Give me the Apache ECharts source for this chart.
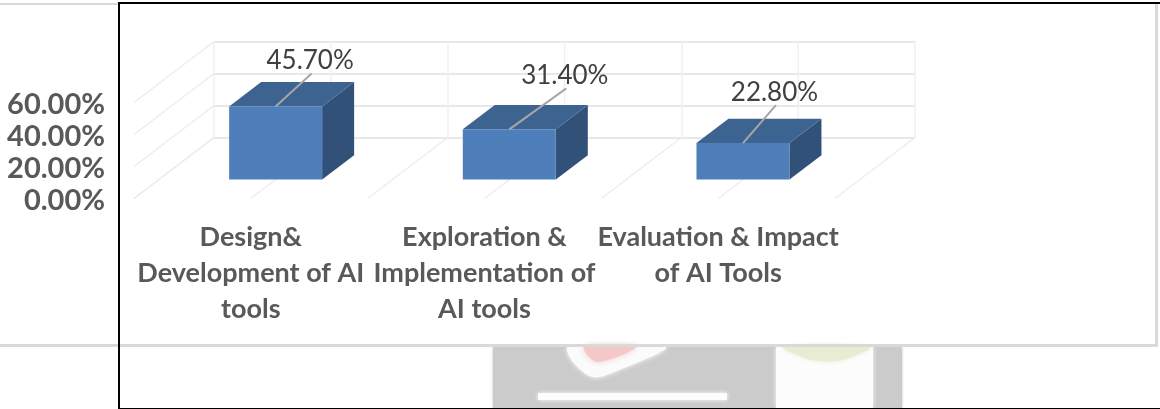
<!DOCTYPE html>
<html>
<head>
<meta charset="utf-8">
<title>AI tools chart</title>
<style>
  html, body { margin: 0; padding: 0; background: #fff; }
  #chart { width: 1160px; height: 409px; }
</style>
<script src="https://cdn.jsdelivr.net/npm/echarts@6/dist/echarts.min.js"></script>
</head>
<body>
<div id="chart"></div>
<script>
// data
var categories = ['Design&\nDevelopment of AI\ntools', 'Exploration &\nImplementation of\nAI tools', 'Evaluation & Impact\nof AI Tools'];
var shares = [45.7, 31.4, 22.8];
var yTicks = [0, 20, 40, 60];

// fake 3d: how far the front edge of the floor sits from the back wall, in px
var depthX = -80, depthY = 61;
var barFront = 0.69, barBack = 0.29;   // bar position along the depth
var barRatio = 0.398;                  // bar width / band width
var leaderOffset = [[36, -33], [57, -41], [33, -38]];

var font = 'Lato, "Noto Sans", sans-serif';
var wallColor = '#e8e8e8';
var floorColor = '#ececec';

function shift(p, k) {
  return [p[0] + depthX * k, p[1] + depthY * k];
}

function lineEl(a, b, color, width) {
  return {
    type: 'line',
    shape: { x1: a[0], y1: a[1], x2: b[0], y2: b[1] },
    style: { stroke: color, lineWidth: width }
  };
}

// middle verticals on the wall and the lines running over the floor
function renderFloor(params, api) {
  var i = api.value(0);
  var band = api.size([1, 0])[0];
  var bottom = api.coord([i, 0]);
  var top = api.coord([i, 60]);
  var xs = [bottom[0] - band / 2, bottom[0]];
  if (i === categories.length - 1) xs.push(bottom[0] + band / 2);
  var els = [lineEl([bottom[0], bottom[1]], [top[0], top[1]], '#f1f1f1', 1.5)];
  xs.forEach(function (x) {
    var p = [x, bottom[1]];
    els.push(lineEl(p, shift(p, 1), floorColor, 1.2));
  });
  return { type: 'group', children: els };
}

// side wall lines, one for each y tick
function renderSide(params, api) {
  var p = api.coord([0, api.value(1)]);
  p[0] -= api.size([1, 0])[0] / 2;
  return lineEl(p, shift(p, 1), floorColor, 1.2);
}

function renderBar(params, api) {
  var i = api.value(0);
  var base = api.coord([i, 0]);
  var tip = api.coord([i, api.value(1)]);
  var w = api.size([1, 0])[0] * barRatio;
  var l = base[0] - w / 2, r = base[0] + w / 2;

  var fbl = shift([l, base[1]], barFront), fbr = shift([r, base[1]], barFront);
  var ftl = shift([l, tip[1]], barFront), ftr = shift([r, tip[1]], barFront);
  var bbr = shift([r, base[1]], barBack);
  var btl = shift([l, tip[1]], barBack), btr = shift([r, tip[1]], barBack);

  var anchor = [(ftl[0] + ftr[0]) / 2, ftl[1]];
  var end = [anchor[0] + leaderOffset[i][0], anchor[1] + leaderOffset[i][1]];

  return {
    type: 'group',
    children: [
      { type: 'polygon', shape: { points: [ftr, btr, bbr, fbr] }, style: { fill: '#325179' } },
      { type: 'polygon', shape: { points: [ftl, btl, btr, ftr] }, style: { fill: '#3d6390' } },
      { type: 'polygon', shape: { points: [ftl, ftr, fbr, fbl] }, style: { fill: '#4e7fbb' } },
      lineEl(anchor, end, '#a6a6a6', 2),
      {
        type: 'text',
        x: end[0] - 1.5,
        y: end[1] - 13,
        style: {
          text: api.value(1).toFixed(2) + '%',
          font: '26px ' + font,
          fill: '#404040',
          align: 'center',
          verticalAlign: 'middle'
        }
      }
    ]
  };
}

// soft edged shape for the faded logo below the chart
function blurred(fill, blur) {
  return { fill: fill, shadowColor: fill, shadowBlur: blur };
}

var option = {
  animation: false,
  backgroundColor: '#ffffff',
  // the page around the chart: frame lines and the faded logo under it
  graphic: [
    { type: 'rect', silent: true, shape: { x: 493, y: 347, width: 409, height: 61 }, style: blurred('#cbcbcb', 3) },
    { type: 'rect', silent: true, shape: { x: 776, y: 347, width: 97, height: 61 }, style: blurred('#fcfcfc', 4) },
    { type: 'rect', silent: true, shape: { x: 538, y: 393, width: 189, height: 7 }, style: blurred('#fdfdfd', 4) },
    { type: 'polygon', silent: true, shape: { points: [[568, 347], [573, 362], [592, 377], [612, 373], [666, 347]], smooth: 0.3 }, style: blurred('#fbfbfb', 5) },
    { type: 'polygon', silent: true, shape: { points: [[584, 347], [597, 362], [636, 347]], smooth: 0.3 }, style: blurred('#f4c8c8', 6) },
    { type: 'polygon', silent: true, shape: { points: [[783, 347], [812, 360], [842, 360], [870, 347]], smooth: 0.3 }, style: blurred('#e9ebd3', 4) },
    { type: 'rect', silent: true, shape: { x: 0, y: 344, width: 1158, height: 3 }, style: { fill: '#d9d9d9' } },
    { type: 'rect', silent: true, shape: { x: 1155, y: 4, width: 3, height: 343 }, style: { fill: '#d9d9d9' } },
    { type: 'rect', silent: true, shape: { x: 0, y: 3, width: 118, height: 2 }, style: { fill: '#d9d9d9' } },
    { type: 'rect', silent: true, shape: { x: 118, y: 2, width: 1042, height: 2 }, style: { fill: '#000000' } },
    { type: 'rect', silent: true, shape: { x: 118, y: 2, width: 2, height: 407 }, style: { fill: '#000000' } },
    { type: 'rect', silent: true, shape: { x: 118, y: 408, width: 1042, height: 1 }, style: { fill: '#000000' } }
  ],
  grid: [
    // back wall
    { left: 214, top: 41.5, width: 701, height: 96 },
    // front edge of the floor, only carries the axis labels
    { left: 134, top: 105, width: 701, height: 96 }
  ],
  xAxis: [
    {
      type: 'category',
      gridIndex: 0,
      data: categories,
      axisLine: { show: false },
      axisTick: { show: false },
      axisLabel: { show: false },
      splitLine: { show: true, lineStyle: { color: '#f1f1f1', width: 1.5 } }
    },
    {
      type: 'category',
      gridIndex: 1,
      data: categories,
      axisLine: { show: false },
      axisTick: { show: false },
      axisLabel: {
        interval: 0,
        margin: 18,
        fontFamily: font,
        fontWeight: 'bold',
        fontSize: 27,
        lineHeight: 36,
        color: '#595959'
      }
    }
  ],
  yAxis: [
    {
      type: 'value',
      gridIndex: 0,
      min: 0,
      max: 60,
      interval: 20,
      axisLine: { show: false },
      axisTick: { show: false },
      axisLabel: { show: false },
      splitLine: { lineStyle: { color: wallColor, width: 2 } }
    },
    {
      type: 'value',
      gridIndex: 1,
      min: 0,
      max: 60,
      interval: 20,
      axisLine: { show: false },
      axisTick: { show: false },
      splitLine: { show: false },
      axisLabel: {
        margin: 29,
        fontFamily: font,
        fontWeight: 'bold',
        fontSize: 29,
        color: '#595959',
        formatter: function (v) { return v.toFixed(2) + '%'; }
      }
    }
  ],
  series: [
    {
      type: 'custom',
      name: 'side',
      xAxisIndex: 0,
      yAxisIndex: 0,
      z: 1,
      silent: true,
      renderItem: renderSide,
      encode: { x: 0, y: 1 },
      data: yTicks.map(function (t) { return [0, t]; })
    },
    {
      type: 'custom',
      name: 'floor',
      xAxisIndex: 0,
      yAxisIndex: 0,
      z: 1,
      silent: true,
      renderItem: renderFloor,
      encode: { x: 0, y: 1 },
      data: categories.map(function (c, i) { return [i, 0]; })
    },
    {
      type: 'custom',
      name: 'share',
      xAxisIndex: 0,
      yAxisIndex: 0,
      z: 2,
      renderItem: renderBar,
      encode: { x: 0, y: 1 },
      data: shares.map(function (v, i) { return [i, v]; })
    }
  ]
};

var myChart = echarts.init(document.getElementById('chart'), null, { renderer: 'canvas' });
myChart.setOption(option);
</script>
</body>
</html>
